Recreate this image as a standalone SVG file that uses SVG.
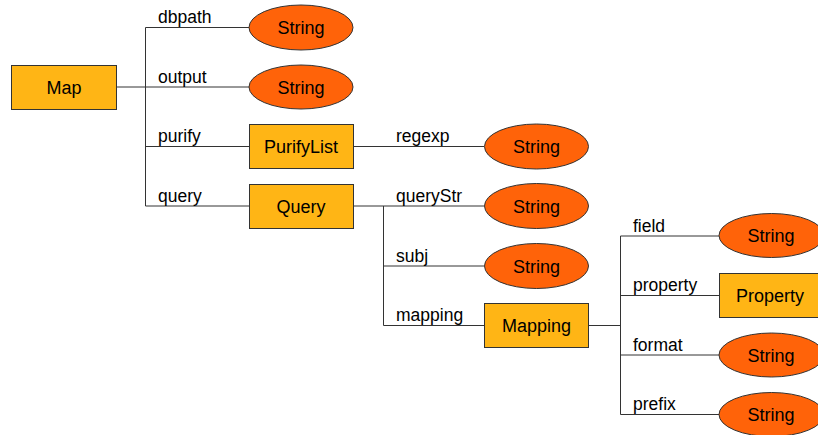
<svg xmlns="http://www.w3.org/2000/svg" width="818" height="435" viewBox="0 0 818 435">
  <style>
    .box { fill: #FFB515; stroke: #333333; stroke-width: 1; }
    .val { fill: #FF6309; stroke: #333333; stroke-width: 1; }
    .lbl { font-family: "Liberation Sans", Arial, sans-serif; font-size: 17.5px; fill: #000000; }
    .name { font-family: "Liberation Sans", Arial, sans-serif; font-size: 18px; fill: #000000; text-anchor: middle; dominant-baseline: central; }
    .wire { fill: none; stroke: #333333; stroke-width: 1; }
  </style>
  <rect width="818" height="435" fill="#ffffff"/>

  <!-- connectors -->
  <g id="connectors" class="wire">
    <!-- Map fields -->
    <path d="M116.5 87 H249"/>
    <path d="M145.5 27.5 V206"/>
    <path d="M145.5 27.5 H249"/>
    <path d="M145.5 146.5 H249"/>
    <path d="M145.5 206 H249"/>
    <!-- PurifyList -->
    <path d="M353 146.5 H484"/>
    <!-- Query fields -->
    <path d="M353 206 H484"/>
    <path d="M383.5 206 V325.5"/>
    <path d="M383.5 266 H484"/>
    <path d="M383.5 325.5 H484"/>
    <!-- Mapping fields -->
    <path d="M589 325.5 H620.5"/>
    <path d="M620.5 236 V414.5"/>
    <path d="M620.5 236 H719"/>
    <path d="M620.5 295.5 H719"/>
    <path d="M620.5 355 H719"/>
    <path d="M620.5 414.5 H719"/>
  </g>

  <!-- edge labels -->
  <g id="labels" class="lbl">
    <text x="158" y="23">dbpath</text>
    <text x="158" y="82.5">output</text>
    <text x="158" y="142">purify</text>
    <text x="158" y="201.5">query</text>
    <text x="396" y="142">regexp</text>
    <text x="396" y="201.5">queryStr</text>
    <text x="396" y="261.5">subj</text>
    <text x="396" y="321">mapping</text>
    <text x="633" y="231.5">field</text>
    <text x="633" y="291">property</text>
    <text x="633" y="350.5">format</text>
    <text x="633" y="410">prefix</text>
  </g>

  <!-- nodes -->
  <g id="map">
    <rect class="box" x="11.5" y="65.5" width="105" height="44"/>
    <text class="name" x="64" y="87.5">Map</text>
  </g>
  <g id="dbpath-string">
    <ellipse class="val" cx="301" cy="27.5" rx="52" ry="22.5"/>
    <text class="name" x="301" y="28">String</text>
  </g>
  <g id="output-string">
    <ellipse class="val" cx="301" cy="87" rx="52" ry="22"/>
    <text class="name" x="301" y="87.5">String</text>
  </g>
  <g id="purifylist">
    <rect class="box" x="249.5" y="124.5" width="104" height="44"/>
    <text class="name" x="301" y="147">PurifyList</text>
  </g>
  <g id="query">
    <rect class="box" x="249.5" y="184.5" width="104" height="44"/>
    <text class="name" x="301" y="206.5">Query</text>
  </g>
  <g id="regexp-string">
    <ellipse class="val" cx="536.5" cy="146.5" rx="52" ry="22.5"/>
    <text class="name" x="536.5" y="147">String</text>
  </g>
  <g id="querystr-string">
    <ellipse class="val" cx="536.5" cy="206" rx="52" ry="22.5"/>
    <text class="name" x="536.5" y="206.5">String</text>
  </g>
  <g id="subj-string">
    <ellipse class="val" cx="536.5" cy="266" rx="52" ry="22.5"/>
    <text class="name" x="536.5" y="266.5">String</text>
  </g>
  <g id="mapping">
    <rect class="box" x="484.5" y="303.5" width="104" height="44"/>
    <text class="name" x="536.5" y="325.5">Mapping</text>
  </g>
  <g id="field-string">
    <ellipse class="val" cx="771.5" cy="235.5" rx="52.5" ry="22"/>
    <text class="name" x="771" y="236">String</text>
  </g>
  <g id="property">
    <rect class="box" x="719.5" y="273.5" width="105" height="44"/>
    <text class="name" x="770" y="295.5">Property</text>
  </g>
  <g id="format-string">
    <ellipse class="val" cx="771.5" cy="355" rx="52.5" ry="22"/>
    <text class="name" x="771" y="355.5">String</text>
  </g>
  <g id="prefix-string">
    <ellipse class="val" cx="771.5" cy="414.5" rx="52.5" ry="22"/>
    <text class="name" x="771" y="415">String</text>
  </g>
</svg>
